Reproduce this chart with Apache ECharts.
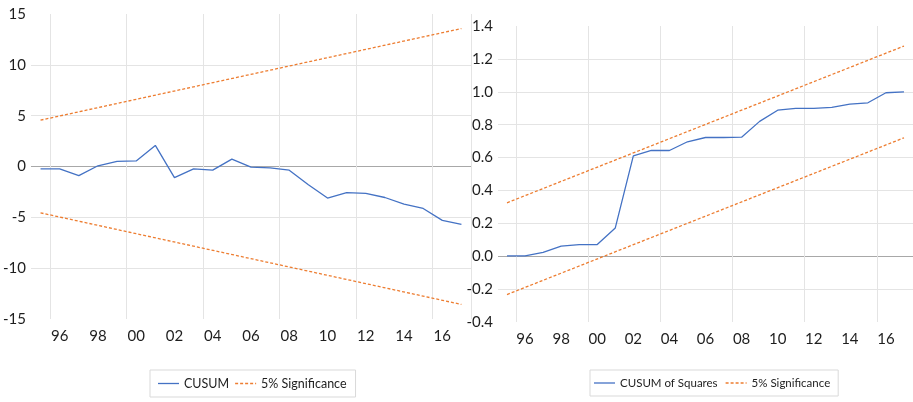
<!DOCTYPE html>
<html>
<head>
<meta charset="utf-8">
<script src="https://cdn.jsdelivr.net/npm/echarts@6/dist/echarts.min.js"></script>
<style>
  html, body { margin: 0; padding: 0; background: #ffffff; }
  #chart { width: 913px; height: 402px; }
</style>
</head>
<body>
<div id="chart"></div>
<script>
// ---- data ----
const years = ['1995','1996','1997','1998','1999','2000','2001','2002','2003','2004','2005','2006',
               '2007','2008','2009','2010','2011','2012','2013','2014','2015','2016','2017'];
const cusum = [-0.23, -0.23, -0.9, 0.07, 0.5, 0.55, 2.07, -1.1, -0.23, -0.36, 0.72, -0.07,
               -0.13, -0.36, -1.8, -3.1, -2.56, -2.65, -3.05, -3.7, -4.13, -5.3, -5.7];
const cusumUpper = [4.56, 13.57];   // first and last year
const cusumLower = [-4.56, -13.57];
const cusumSq = [0.002, 0.002, 0.024, 0.061, 0.071, 0.071, 0.172, 0.61, 0.643, 0.643, 0.696, 0.722,
                 0.722, 0.724, 0.82, 0.888, 0.899, 0.899, 0.905, 0.925, 0.933, 0.994, 1.0];
const sqUpper = [0.325, 1.278];
const sqLower = [-0.233, 0.72];
const leftName = 'CUSUM';
const rightName = 'CUSUM of Squares';
const sigName = '5% Significance';

// ---- styling ----
const FONT = "Lato, 'Open Sans', sans-serif";
const BLUE = '#4472C4';
const ORANGE = '#ED7D31';
const GRID = '#e4e4e4';
const ZERO = '#a8a8a8';
const TXT = '#1e1e1e';
const CLEAR = 'rgba(0,0,0,0)';
const SOLID_ICON = 'path://M0,0H21V1.3H0Z';
const DASH_ICON = 'path://M0,0H3V1.3H0Z M5,0H8V1.3H5Z M10,0H13V1.3H10Z M15,0H18V1.3H15Z M20,0H21V1.3H20Z';

function ends(arr) {
  return [[years[0], arr[0]], [years[years.length - 1], arr[1]]];
}

function xAxisDef(gi) {
  return {
    type: 'category', gridIndex: gi, data: years, boundaryGap: true,
    axisLine: { show: false }, axisTick: { show: false },
    axisLabel: {
      interval: (i) => i % 2 === 1,
      formatter: (v) => v.slice(2),
      fontFamily: FONT, fontSize: 15, color: TXT, margin: 10
    },
    splitLine: { show: true, interval: (i) => i % 4 === 1, lineStyle: { color: GRID, width: 1 } }
  };
}

function yColors(n, zeroIdx) {
  const c = [];
  for (let i = 0; i < n; i++) {
    if (i === 0 || i === n - 1) c.push(CLEAR);
    else if (i === zeroIdx) c.push(ZERO);
    else c.push(GRID);
  }
  return c;
}

const option = {
  backgroundColor: '#ffffff',
  animation: false,
  grid: [
    { left: 30, top: 14, width: 441, height: 305 },
    { left: 498, top: 26, width: 422, height: 296 }
  ],
  xAxis: [xAxisDef(0), xAxisDef(1)],
  yAxis: [
    {
      type: 'value', gridIndex: 0, min: -15, max: 15, interval: 5,
      axisLine: { show: false }, axisTick: { show: false },
      axisLabel: { fontFamily: FONT, fontSize: 15, color: TXT, margin: 5, padding: [0, 0, 5, 0] },
      splitLine: { show: true, lineStyle: { color: yColors(7, 3), width: 1 } }
    },
    {
      type: 'value', gridIndex: 1, min: -0.4, max: 1.4, interval: 0.2,
      axisLine: { show: false }, axisTick: { show: false },
      axisLabel: { fontFamily: FONT, fontSize: 15, color: TXT, margin: 5, padding: [0, 0, 5, 0],
                   formatter: (v) => v.toFixed(1) },
      splitLine: { show: true, lineStyle: { color: yColors(10, 2), width: 1 } }
    }
  ],
  legend: [
    {
      left: 150, top: 370, orient: 'horizontal',
      data: [{ name: leftName, icon: SOLID_ICON }, { name: sigName, icon: DASH_ICON }],
      itemWidth: 21, itemHeight: 14, itemGap: 6,
      borderColor: '#d9d9d9', borderWidth: 1, padding: [7, 9, 7, 8],
      textStyle: { fontFamily: FONT, fontSize: 12.5, color: TXT },
      selectedMode: false
    },
    {
      left: 590, top: 370, orient: 'horizontal',
      data: [{ name: rightName, icon: SOLID_ICON }, { name: sigName + ' ', icon: DASH_ICON }],
      itemWidth: 21, itemHeight: 14, itemGap: 8,
      borderColor: '#d9d9d9', borderWidth: 1, padding: [7, 8, 7, 4],
      textStyle: { fontFamily: FONT, fontSize: 11.5, color: TXT },
      formatter: (n) => n.trim(),
      selectedMode: false
    }
  ],
  series: [
    { name: leftName, type: 'line', xAxisIndex: 0, yAxisIndex: 0, data: cusum,
      symbol: 'none', lineStyle: { color: BLUE, width: 1.3 }, itemStyle: { color: BLUE }, z: 3 },
    { name: sigName, type: 'line', xAxisIndex: 0, yAxisIndex: 0, data: ends(cusumUpper),
      symbol: 'none', lineStyle: { color: ORANGE, width: 1.3, type: [3, 2] }, itemStyle: { color: ORANGE } },
    { name: sigName, type: 'line', xAxisIndex: 0, yAxisIndex: 0, data: ends(cusumLower),
      symbol: 'none', lineStyle: { color: ORANGE, width: 1.3, type: [3, 2] }, itemStyle: { color: ORANGE } },
    { name: rightName, type: 'line', xAxisIndex: 1, yAxisIndex: 1, data: cusumSq,
      symbol: 'none', lineStyle: { color: BLUE, width: 1.3 }, itemStyle: { color: BLUE }, z: 3 },
    { name: sigName + ' ', type: 'line', xAxisIndex: 1, yAxisIndex: 1, data: ends(sqUpper),
      symbol: 'none', lineStyle: { color: ORANGE, width: 1.3, type: [3, 2] }, itemStyle: { color: ORANGE } },
    { name: sigName + ' ', type: 'line', xAxisIndex: 1, yAxisIndex: 1, data: ends(sqLower),
      symbol: 'none', lineStyle: { color: ORANGE, width: 1.3, type: [3, 2] }, itemStyle: { color: ORANGE } }
  ]
};

const chart = echarts.init(document.getElementById('chart'), null, { renderer: 'canvas' });
chart.setOption(option);
</script>
</body>
</html>
